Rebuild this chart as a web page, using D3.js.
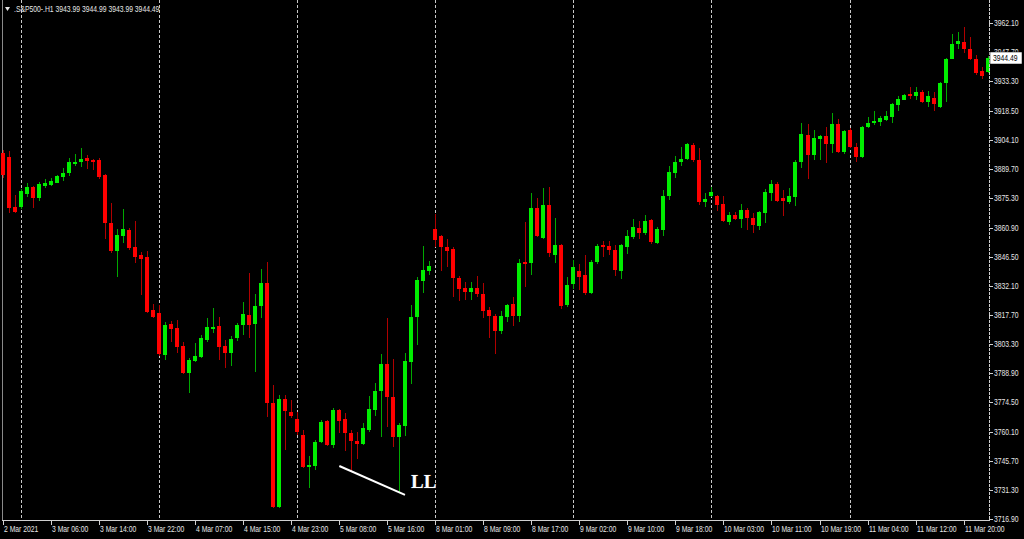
<!DOCTYPE html>
<html><head><meta charset="utf-8">
<script src="https://cdnjs.cloudflare.com/ajax/libs/d3/7.8.5/d3.min.js"></script>
<style>
html,body{margin:0;padding:0;background:#000;}
svg{display:block;}
</style></head>
<body>
<svg id="chart" width="1024" height="539"></svg>
<script>
// ---- data (H1 bars, first bar 2 Mar 2021 21:00) ----
const open = [
3897.7,3895.7,3871.0,3871.0,3877.5,3880.9,3875.5,3881.4,3881.9,3882.9,
3885.9,3887.9,3892.3,3893.3,3895.2,3894.2,3894.2,3886.9,3863.1,3849.3,
3856.7,3859.7,3851.3,3847.3,3846.3,3820.2,3818.7,3797.9,3813.3,3811.3,
3802.4,3789.0,3795.0,3796.9,3805.3,3811.3,3812.3,3802.4,3798.9,3806.3,
3812.8,3817.7,3813.3,3822.2,3833.5,3774.2,3722.8,3776.2,3769.8,3766.3,
3758.4,3742.6,3743.1,3755.0,3765.3,3753.5,3770.8,3766.3,3759.4,3755.4,
3754.0,3760.9,3770.8,3780.1,3793.5,3777.2,3757.4,3762.8,3794.5,3816.7,
3834.5,3839.4,3860.2,3856.7,3851.3,3850.3,3836.0,3831.1,3829.1,3831.1,
3828.1,3820.2,3817.2,3809.8,3816.7,3823.1,3817.2,3843.9,3843.4,3870.6,
3855.7,3872.0,3847.3,3852.3,3822.6,3833.0,3839.4,3837.5,3828.6,3843.9,
3852.3,3851.8,3849.8,3839.4,3851.3,3856.2,3860.7,3858.2,3864.6,3853.2,
3859.7,3876.5,3887.9,3893.3,3894.7,3901.7,3894.2,3873.5,3876.5,3876.5,
3872.5,3863.6,3867.1,3865.1,3869.6,3865.6,3861.7,3868.1,3877.9,3882.4,
3875.5,3873.5,3876.0,3893.3,3906.6,3896.7,3904.6,3906.1,3902.2,3912.0,
3898.2,3909.1,3900.7,3895.7,3910.6,3913.0,3913.0,3914.0,3915.5,3921.4,
3923.9,3926.9,3925.9,3927.9,3922.9,3924.9,3920.4,3932.3,3944.2,3951.5,
3952.5,3949.1,3944.2,3938.2,3937.7];
const high = [
3899.2,3898.7,3877.0,3879.9,3882.9,3881.4,3883.4,3884.9,3885.4,3886.9,
3890.3,3895.2,3897.2,3900.2,3896.7,3894.7,3895.2,3887.4,3873.0,3860.2,
3870.1,3860.7,3864.1,3848.8,3849.3,3823.1,3822.6,3814.3,3814.8,3815.3,
3804.4,3796.4,3803.9,3807.8,3816.2,3821.2,3816.7,3805.3,3807.3,3813.8,
3824.1,3838.4,3828.1,3840.4,3843.9,3783.1,3778.1,3778.1,3775.7,3769.8,
3760.8,3748.0,3756.0,3765.8,3765.8,3771.7,3771.2,3769.3,3760.8,3759.9,
3764.3,3777.7,3784.1,3798.4,3816.2,3795.9,3764.3,3798.9,3822.6,3836.5,
3851.8,3844.4,3867.6,3857.2,3855.2,3851.3,3837.0,3834.0,3834.0,3837.0,
3833.5,3821.7,3818.2,3819.7,3823.1,3826.6,3845.4,3863.6,3878.0,3875.5,
3880.4,3880.9,3865.6,3852.7,3836.5,3844.9,3842.9,3847.3,3844.9,3852.7,
3854.2,3854.2,3852.3,3852.7,3859.7,3865.1,3864.1,3867.1,3865.1,3861.2,
3879.5,3891.3,3896.2,3900.7,3902.7,3902.7,3900.2,3878.0,3880.9,3877.0,
3876.5,3868.6,3868.6,3872.5,3870.6,3868.1,3869.1,3879.9,3884.4,3883.4,
3879.5,3880.4,3894.2,3912.5,3912.0,3909.1,3906.6,3910.6,3917.5,3914.5,
3909.1,3910.1,3902.7,3911.1,3915.5,3918.5,3916.0,3918.5,3922.4,3925.9,
3926.9,3930.3,3930.3,3928.9,3928.4,3927.9,3932.8,3944.6,3956.5,3957.5,
3960.0,3955.0,3946.1,3940.2,3945.6];
const low = [
3885.4,3868.1,3868.2,3870.0,3876.0,3870.6,3874.0,3880.4,3881.4,3882.7,
3883.9,3886.4,3891.3,3890.8,3889.8,3889.3,3884.9,3855.2,3848.3,3836.5,
3853.2,3849.8,3843.3,3827.6,3818.7,3816.2,3797.4,3795.5,3804.3,3798.9,
3788.5,3779.2,3794.5,3796.4,3804.4,3808.8,3795.5,3791.5,3792.5,3804.9,
3807.8,3806.3,3789.5,3816.2,3767.3,3722.4,3722.4,3751.0,3766.8,3758.4,
3742.1,3732.2,3741.1,3754.5,3753.1,3752.1,3759.4,3750.5,3740.6,3746.5,
3753.5,3759.9,3767.8,3757.4,3762.4,3752.5,3730.2,3757.9,3783.6,3802.9,
3828.6,3837.5,3851.3,3839.4,3841.4,3826.6,3824.6,3825.1,3825.1,3826.6,
3816.2,3806.3,3798.4,3808.3,3814.3,3812.3,3814.3,3831.6,3837.5,3856.2,
3855.2,3846.3,3843.3,3820.7,3821.7,3830.6,3830.1,3827.6,3828.1,3842.9,
3846.3,3847.3,3836.9,3835.5,3847.8,3855.2,3855.2,3857.2,3852.7,3852.7,
3856.7,3874.5,3885.4,3891.3,3894.2,3893.3,3872.0,3871.0,3876.0,3869.1,
3863.6,3862.1,3864.6,3860.7,3859.7,3858.2,3859.7,3863.1,3874.0,3873.5,
3866.6,3872.5,3871.5,3890.3,3884.9,3894.2,3894.2,3892.8,3897.7,3897.7,
3897.2,3900.2,3893.3,3895.2,3910.1,3911.5,3911.0,3913.5,3912.5,3918.5,
3923.9,3924.4,3923.9,3922.4,3920.4,3918.5,3919.9,3922.9,3944.2,3949.1,
3947.1,3943.7,3936.2,3934.2,3937.2];
const close = [
3886.9,3870.6,3868.6,3878.9,3880.9,3875.5,3882.4,3882.9,3883.9,3886.4,
3887.9,3893.3,3893.3,3894.7,3893.7,3893.3,3885.9,3863.1,3849.3,3857.2,
3860.2,3850.8,3846.3,3845.4,3819.2,3816.7,3798.4,3812.8,3810.8,3801.9,
3789.0,3795.5,3797.4,3806.3,3811.8,3811.9,3801.9,3798.9,3805.8,3812.8,
3818.2,3812.8,3822.2,3833.5,3774.2,3722.8,3776.2,3770.2,3767.8,3759.9,
3742.6,3743.6,3755.0,3764.9,3753.5,3770.8,3765.3,3759.4,3755.4,3754.0,
3761.9,3771.2,3780.1,3793.5,3777.2,3757.4,3763.3,3795.0,3816.7,3835.0,
3839.9,3841.9,3854.7,3851.3,3849.3,3836.0,3830.6,3829.1,3831.1,3828.1,
3819.7,3817.2,3809.8,3817.2,3822.6,3817.2,3843.4,3842.9,3870.6,3856.7,
3872.0,3848.3,3852.3,3822.2,3832.6,3841.4,3836.5,3828.6,3843.9,3851.8,
3851.3,3849.8,3839.9,3852.3,3856.7,3861.2,3858.2,3864.1,3853.7,3860.2,
3876.5,3888.3,3893.3,3894.7,3902.2,3894.2,3873.5,3875.0,3878.4,3872.0,
3864.1,3867.1,3865.1,3869.6,3865.6,3862.1,3868.6,3878.4,3882.4,3874.0,
3874.0,3876.5,3893.3,3907.1,3896.7,3905.1,3906.1,3902.2,3912.0,3898.2,
3908.6,3900.7,3895.7,3910.6,3912.5,3913.5,3915.0,3916.0,3921.9,3924.4,
3926.4,3925.9,3927.9,3922.9,3925.9,3921.9,3932.3,3944.2,3951.5,3953.0,
3949.1,3944.2,3937.2,3935.7,3944.49];

const timeLabels = ["2 Mar 2021","3 Mar 06:00","3 Mar 14:00","3 Mar 22:00","4 Mar 07:00",
  "4 Mar 15:00","4 Mar 23:00","5 Mar 08:00","5 Mar 16:00","8 Mar 01:00","8 Mar 09:00",
  "8 Mar 17:00","9 Mar 02:00","9 Mar 10:00","9 Mar 18:00","10 Mar 03:00","10 Mar 11:00",
  "10 Mar 19:00","11 Mar 04:00","11 Mar 12:00","11 Mar 20:00"];
const timeLabelBars = [0,8,16,24,32,40,48,56,64,72,80,88,96,104,112,120,128,136,144,152,160];
const daySeparatorBars = [3,26,49,72,95,118,141];
const priceTicks = [3716.90,3731.30,3745.70,3760.10,3774.50,3788.90,3803.30,3817.70,3832.10,
  3846.50,3860.90,3875.30,3889.70,3904.10,3918.50,3933.30,3947.70,3962.10];
const symbolTitle = ".S&P500-.H1  3943.99 3944.99 3943.99 3944.49";
const lastPrice = 3944.49;
const llLine = [[56.05, 3743.1],[66.98, 3728.8]];
const llText = {bar: 68, price: 3732.0, text: "LL"};

// ---- drawing ----
const svg = d3.select("#chart");
const W = 1024, H = 539;
const plotRight = 989, plotBottom = 520, plotLeft = 2;
svg.append("rect").attr("width", W).attr("height", H).attr("fill", "#000");

const x = d3.scaleLinear().domain([0, 164]).range([2.7, 2.7 + 164 * 6.006]);
const y = d3.scaleLinear().domain([3716.9, 3962.1]).range([519, 22.7]);

const font = "'Liberation Sans',Arial,sans-serif";
const SX = 0.8; // narrow (Tahoma-like) look
function label(sel, tx, ty) {
  return sel.attr("transform", (d, k) => `translate(${tx(d, k)},${ty(d, k)}) scale(${SX},1)`)
    .attr("font-family", font).attr("font-size", "8.5px");
}

// day separators
svg.append("g").selectAll("line").data(daySeparatorBars).join("line")
  .attr("x1", d => Math.round(x(d)) + 0.5).attr("x2", d => Math.round(x(d)) + 0.5)
  .attr("y1", 0).attr("y2", plotBottom)
  .attr("stroke", "#c8c8c8").attr("stroke-width", 1).attr("stroke-dasharray", "3,2");

// frame
svg.append("line").attr("x1", plotLeft + 0.5).attr("x2", plotLeft + 0.5).attr("y1", 0).attr("y2", plotBottom)
  .attr("stroke", "#8a8a8a");

const bars = d3.range(open.length).map(i => ({i, o: open[i], h: high[i], l: low[i], c: close[i]}));
const g = svg.append("g").attr("shape-rendering", "crispEdges");
g.selectAll("rect.wick").data(bars).join("rect").attr("class", "wick")
  .attr("x", d => Math.round(x(d.i)))
  .attr("width", 1)
  .attr("y", d => Math.round(y(d.h)))
  .attr("height", d => Math.max(1, Math.round(y(d.l)) - Math.round(y(d.h))))
  .attr("fill", d => d.c >= d.o ? "#00a800" : "#b00000");
g.selectAll("rect.body").data(bars).join("rect").attr("class", "body")
  .attr("x", d => Math.round(x(d.i)) - 2)
  .attr("width", 4)
  .attr("y", d => Math.round(y(Math.max(d.o, d.c))))
  .attr("height", d => Math.max(2, Math.round(y(Math.min(d.o, d.c))) - Math.round(y(Math.max(d.o, d.c)))))
  .attr("fill", d => d.c >= d.o ? "#00ee00" : "#ff0000");

// axes lines
svg.append("line").attr("x1", plotLeft).attr("x2", plotRight + 0.5).attr("y1", plotBottom + 0.5).attr("y2", plotBottom + 0.5)
  .attr("stroke", "#d0d0d0");
svg.append("line").attr("x1", plotRight + 0.5).attr("x2", plotRight + 0.5).attr("y1", 0).attr("y2", plotBottom + 1)
  .attr("stroke", "#d0d0d0").attr("stroke-dasharray", "3,1");

// price axis
const ya = svg.append("g");
ya.selectAll("line").data(priceTicks).join("line")
  .attr("x1", plotRight).attr("x2", plotRight + 4)
  .attr("y1", d => Math.round(y(d)) + 0.5).attr("y2", d => Math.round(y(d)) + 0.5)
  .attr("stroke", "#d0d0d0");
label(ya.selectAll("text").data(priceTicks).join("text"), () => plotRight + 5, d => y(d) + 3)
  .attr("fill", "#e6e6e6")
  .text(d => d.toFixed(2));

// time axis
const xa = svg.append("g");
xa.selectAll("line").data(timeLabelBars).join("line")
  .attr("x1", d => Math.round(x(d)) + 0.5).attr("x2", d => Math.round(x(d)) + 0.5)
  .attr("y1", plotBottom).attr("y2", plotBottom + 5)
  .attr("stroke", "#d0d0d0");
label(xa.selectAll("text").data(timeLabelBars).join("text"), d => Math.round(x(d)) + 1, () => 532)
  .attr("fill", "#e6e6e6")
  .text((d, k) => timeLabels[k]);

// last price label
const ly = y(lastPrice);
svg.append("rect").attr("x", plotRight + 1).attr("y", Math.round(ly) - 6).attr("width", 32).attr("height", 12)
  .attr("fill", "#ffffff").attr("stroke", "#000").attr("stroke-width", 0.5);
label(svg.append("text").datum(lastPrice), () => plotRight + 4, () => ly + 3)
  .attr("fill", "#000").text(lastPrice.toFixed(2));

// title
svg.append("path").attr("d", "M5,7 L10,7 L7.5,11 Z").attr("fill", "#e6e6e6");
label(svg.append("text").datum(symbolTitle), () => 14, () => 12)
  .attr("fill", "#e6e6e6")
  .text(symbolTitle);

// LL annotation
svg.append("line")
  .attr("x1", x(llLine[0][0])).attr("y1", y(llLine[0][1]))
  .attr("x2", x(llLine[1][0])).attr("y2", y(llLine[1][1]))
  .attr("stroke", "#ffffff").attr("stroke-width", 2);
svg.append("text").attr("x", x(llText.bar)).attr("y", y(llText.price))
  .attr("fill", "#ffffff").attr("stroke", "#444").attr("stroke-width", 0.6).attr("paint-order", "stroke")
  .attr("font-family", "'Liberation Serif','DejaVu Serif',serif").attr("font-weight", "bold")
  .attr("font-size", "19px").text(llText.text);
</script>
</body></html>
